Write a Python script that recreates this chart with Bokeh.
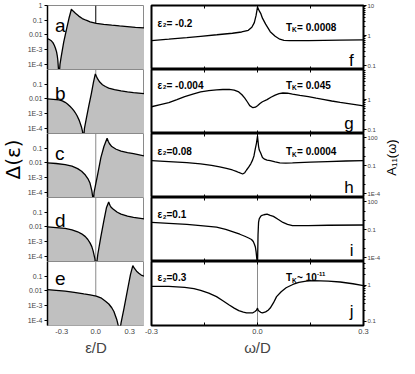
import math
from bokeh.plotting import figure
from bokeh.models import Range1d, FixedTicker, LinearAxis, Span, Label, PrintfTickFormatter
from bokeh.layouts import column, row
from bokeh.embed import file_html
from bokeh.resources import INLINE

# ---------------- data ----------------
left_letters = ["a", "b", "c", "d", "e"]
right_letters = ["f", "g", "h", "i", "j"]

eps_a = [-0.426, -0.41, -0.392, -0.378, -0.365, -0.355, -0.346, -0.340, -0.335, -0.330, -0.325,
         -0.316, -0.305, -0.283, -0.256, -0.234, -0.215, -0.205, -0.193, -0.174, -0.15, -0.119,
         -0.085, -0.05, 0.004, 0.07, 0.141, 0.21, 0.278, 0.35, 0.43]
delta_a = [5.6e-3, 4.9e-3, 4.0e-3, 3.0e-3, 1.9e-3, 1.2e-3, 7.1e-4, 4.0e-4, 2.0e-4, 5.9e-5, 1e-5,
           1.0e-4, 3.4e-4, 3.2e-3, 2.9e-2, 0.16, 0.56, 0.45, 0.38, 0.27, 0.19, 0.13,
           0.10, 0.078, 0.062, 0.053, 0.046, 0.041, 0.037, 0.033, 0.030]

eps_b = [-0.426, -0.375, -0.325, -0.295, -0.27, -0.25, -0.228, -0.21, -0.192, -0.178, -0.165,
         -0.146, -0.127, -0.117, -0.110, -0.1, -0.084, -0.062, -0.039, -0.021, -0.004, 0.005,
         0.018, 0.035, 0.059, 0.085, 0.114, 0.165, 0.223, 0.28, 0.333, 0.43]
delta_b = [1.02e-2, 9.5e-3, 8.7e-3, 7.4e-3, 5.9e-3, 4.6e-3, 3.2e-3, 2.3e-3, 1.55e-3, 1.07e-3, 7.2e-4,
           3.5e-4, 1.3e-4, 6.3e-5, 1e-5, 1.0e-4, 4.5e-4, 3.2e-3, 2.3e-2, 0.13, 0.50, 0.35,
           0.22, 0.14, 0.093, 0.07, 0.055, 0.043, 0.035, 0.030, 0.027, 0.023]

eps_c = [-0.426, -0.35, -0.27, -0.21, -0.16, -0.125, -0.092, -0.07, -0.051, -0.035, -0.027,
         -0.024, -0.015, 0.018, 0.045, 0.072, 0.100, 0.11, 0.12, 0.141, 0.18, 0.223, 0.28,
         0.333, 0.429]
delta_c = [1.0e-2, 9.2e-3, 7.7e-3, 6.0e-3, 4.1e-3, 2.7e-3, 1.5e-3, 8.7e-4, 4.3e-4, 1.3e-4, 5e-5,
           1e-5, 1.0e-4, 1.9e-3, 2.3e-2, 0.13, 0.47, 0.30, 0.21, 0.13, 0.085, 0.063, 0.050,
           0.043, 0.030]

eps_d = [-0.426, -0.35, -0.27, -0.21, -0.16, -0.125, -0.092, -0.07, -0.051, -0.035, -0.023,
         -0.007, 0.0, 0.018, 0.045, 0.072, 0.094, 0.114, 0.125, 0.135, 0.155, 0.19, 0.223,
         0.28, 0.333, 0.429]
delta_d = [1.0e-2, 9.0e-3, 7.9e-3, 6.4e-3, 4.7e-3, 3.4e-3, 2.2e-3, 1.4e-3, 8.3e-4, 4.6e-4, 2.3e-4,
           6.6e-5, 1e-5, 1.4e-4, 2.2e-3, 2.8e-2, 0.20, 0.50, 0.30, 0.22, 0.16, 0.10, 0.075,
           0.055, 0.045, 0.035]

eps_e = [-0.426, -0.35, -0.27, -0.19, -0.105, -0.05, 0.004, 0.045, 0.086, 0.115, 0.141, 0.16,
         0.174, 0.186, 0.196, 0.210, 0.223, 0.250, 0.278, 0.306, 0.327, 0.34, 0.360, 0.38,
         0.401, 0.429]
delta_e = [1.23e-2, 1.1e-2, 9.8e-3, 8.0e-3, 6.3e-3, 5.4e-3, 4.5e-3, 3.4e-3, 2.0e-3, 1.3e-3, 7.2e-4,
           4.0e-4, 2.0e-4, 1.1e-4, 5.4e-5, 1e-5, 6.9e-5, 7.2e-4, 9.8e-3, 0.13, 0.52, 0.35, 0.22,
           0.16, 0.12, 0.10]

omega_f = [-0.300, -0.251, -0.2, -0.161, -0.115, -0.071, -0.045, -0.026, -0.016, -0.009, -0.004,
           0.0, 0.005, 0.009, 0.014, 0.023, 0.036, 0.050, 0.063, 0.075, 0.090, 0.144, 0.233, 0.300]
A_f = [0.68, 0.76, 0.86, 0.95, 1.07, 1.2, 1.32, 1.5, 1.9, 2.7, 4.7,
       8.9, 6.6, 5.5, 3.8, 2.4, 1.35, 0.95, 0.76, 0.70, 0.68, 0.68, 0.71, 0.72]

omega_g = [-0.300, -0.275, -0.251, -0.228, -0.206, -0.183, -0.161, -0.138, -0.116, -0.098, -0.080,
           -0.066, -0.053, -0.044, -0.036, -0.029, -0.022, -0.013, -0.006, 0.0, 0.007, 0.014,
           0.027, 0.038, 0.050, 0.061, 0.072, 0.085, 0.099, 0.12, 0.144, 0.166, 0.189, 0.21,
           0.234, 0.267, 0.300]
A_g = [0.58, 0.68, 0.79, 1.0, 1.26, 1.52, 1.8, 1.98, 2.1, 2.17, 2.2,
       2.08, 1.8, 1.45, 1.12, 0.85, 0.63, 0.54, 0.56, 0.63, 0.74, 0.85,
       1.0, 1.2, 1.41, 1.57, 1.66, 1.63, 1.51, 1.38, 1.26, 1.12, 1.0, 0.9,
       0.81, 0.71, 0.62]

omega_h = [-0.300, -0.251, -0.2, -0.161, -0.13, -0.107, -0.088, -0.071, -0.06, -0.053, -0.042,
           -0.036, -0.031, -0.025, -0.019, -0.014, -0.010, -0.006, -0.003, 0.0, 0.003, 0.005,
           0.009, 0.014, 0.02, 0.027, 0.036, 0.05, 0.063, 0.08, 0.099, 0.15, 0.198, 0.25, 0.300]
A_h = [0.35, 0.28, 0.21, 0.16, 0.11, 0.076, 0.052, 0.035, 0.025, 0.019, 0.013,
       0.018, 0.035, 0.07, 0.16, 0.4, 1.1, 7.1, 25, 150, 12, 4.8,
       2.3, 0.74, 0.5, 0.4, 0.35, 0.26, 0.20, 0.19, 0.20, 0.24, 0.28, 0.32, 0.35]

omega_i = [-0.300, -0.251, -0.2, -0.161, -0.116, -0.09, -0.071, -0.05, -0.036, -0.025, -0.017,
           -0.012, -0.009, -0.006, -0.004, -0.002, 0.0, 0.0015, 0.003, 0.005, 0.009, 0.013,
           0.018, 0.027, 0.036, 0.045, 0.058, 0.072, 0.085, 0.099, 0.144, 0.2, 0.300]
A_i = [0.60, 0.48, 0.37, 0.28, 0.19, 0.11, 0.062, 0.033, 0.020, 0.013, 9.1e-3,
       5.5e-3, 3.0e-3, 1.4e-3, 4.5e-4, 8e-5, 1e-5, 0.029, 0.60, 1.5, 2.7, 3.5,
       4.0, 4.6, 3.4, 2.7, 1.3, 0.60, 0.38, 0.28, 0.28, 0.30, 0.32]

omega_j = [-0.300, -0.251, -0.206, -0.18, -0.161, -0.138, -0.116, -0.098, -0.080, -0.066, -0.053,
           -0.04, -0.031, -0.02, -0.013, -0.007, -0.003, 0.0, 0.002, 0.004, 0.009, 0.014,
           0.023, 0.03, 0.036, 0.045, 0.054, 0.067, 0.081, 0.1, 0.117, 0.138, 0.158, 0.2,
           0.234, 0.27, 0.300]
A_j = [0.93, 0.93, 0.87, 0.80, 0.72, 0.60, 0.48, 0.37, 0.28, 0.23, 0.195,
       0.178, 0.17, 0.168, 0.17, 0.185, 0.20, 0.23, 0.20, 0.19, 0.175, 0.17,
       0.18, 0.20, 0.23, 0.32, 0.48, 0.66, 0.85, 1.05, 1.2, 1.3, 1.35, 1.31,
       1.23, 1.1, 0.98]

eps2_text = ["= -0.2", "= -0.004", "=0.08", "=0.1", "=0.3"]
tk_text = ["= 0.0008", "= 0.045", "= 0.0004", None, "~ 10"]
tk_exponent = [None, None, None, None, "-11"]

left_y_ticks = [1e-4, 1e-3, 1e-2, 0.1, 1]
left_y_tick_labels = ["1E-4", "1E-3", "0.01", "0.1", "1"]
x_ticks = [-0.3, 0.0, 0.3]
x_minor_ticks = [-0.15, 0.15]
right_y_ticks = [[0.1, 1, 10], [0.1, 1], [1e-4, 0.1, 100], [1e-4, 0.1, 100], [0.1, 1]]
decade_minor = [0.2, 0.3, 0.4, 0.5, 0.6, 0.7, 0.8, 0.9, 2, 3, 4, 5, 6, 7, 8, 9]
right_y_minor = [decade_minor, decade_minor, [1e-3, 1e-2, 1, 10], [1e-3, 1e-2, 1, 10],
                 [0.2, 0.3, 0.4, 0.5, 0.6, 0.7, 0.8, 0.9, 2, 3, 4]]
right_y_tick_labels = {1e-4: "1E-4", 0.1: "0.1", 1: "1", 10: "10", 100: "100"}

left_x_range = (-0.426, 0.43)
left_y_range = (4.5e-5, 1.0)
right_x_range = (-0.3, 0.3)
right_y_ranges = [(0.075, 10), (0.075, 10), (4e-5, 280), (4e-5, 280), (0.075, 4.6)]

left_series = [(eps_a, delta_a), (eps_b, delta_b), (eps_c, delta_c), (eps_d, delta_d), (eps_e, delta_e)]
right_series = [(omega_f, A_f), (omega_g, A_g), (omega_h, A_h), (omega_i, A_i), (omega_j, A_j)]

# ---------------- layout / style ----------------
FONT = "Liberation Sans"
FRAME_H = 64
TOP = 5
BOTTOM = 33
TOTAL_H = TOP + 5 * FRAME_H + BOTTOM
LBL_L_W = 24
L_BORDER, L_FRAME = 20, 100
R_BORDER_L, R_FRAME, R_BORDER_R = 7, 214, 18
LBL_R_W = 16
FILL = "#c0c0c0"
GRAYLINE = "#8a8a8a"

left_letter_base = [44.0, 40.0, 44.5, 41.4, 46.9]
right_letter_base = [9.0, 10.0, 10.5, 11.0, 14.0]
eps2_base = [46.1, 48.1, 46.1, 46.6, 48.0]
tk_base = [42.4, 48.5, 46.0, None, 47.7]


def lab(p, x, y, text, size, bold=False, xo=0, yo=0, align="left", angle=0.0,
        x_units="data", y_units="screen", font=FONT, baseline="alphabetic"):
    p.add_layout(Label(x=x, y=y, x_units=x_units, y_units=y_units, text=text,
                       text_font=font, text_font_size=f"{size}px",
                       text_font_style="bold" if bold else "normal",
                       text_align=align, text_baseline=baseline, angle=angle,
                       x_offset=xo, y_offset=yo, text_color="black"))


def label_fig(width, text, y, size, font):
    p = figure(width=width, height=TOTAL_H, x_range=Range1d(0, 1), y_range=Range1d(0, TOTAL_H),
               x_axis_location=None, y_axis_location=None, output_backend="svg",
               toolbar_location=None, min_border=0)
    p.margin = 0
    p.grid.visible = False
    p.outline_line_color = None
    p.add_layout(Label(x=0.5, y=y, text=text, text_font=font, text_font_size=f"{size}px",
                       angle=math.pi / 2, text_align="center", text_baseline="middle",
                       text_color="black"))
    return p


def left_fig(k):
    first, last = k == 0, k == 4
    top = TOP if first else 0
    bot = BOTTOM if last else 0
    eps, delta = left_series[k]
    p = figure(width=L_BORDER + L_FRAME, height=FRAME_H + top + bot,
               x_range=Range1d(*left_x_range), y_range=Range1d(*left_y_range),
               y_axis_type="log", output_backend="svg", toolbar_location=None,
               min_border_left=L_BORDER, min_border_right=0,
               min_border_top=top, min_border_bottom=bot)
    p.margin = 0
    p.grid.visible = False
    p.outline_line_color = GRAYLINE
    p.outline_line_width = 1
    p.add_layout(Span(location=0, dimension="height", line_color="black" if first else GRAYLINE,
                      line_width=1, level="underlay"))
    p.varea(x=eps, y1=1e-6, y2=delta, fill_color=FILL)
    p.line(eps, delta, line_color="black", line_width=1.3)

    yax = p.yaxis[0]
    yax.ticker = FixedTicker(ticks=left_y_ticks if first else left_y_ticks[:-1], minor_ticks=[])
    yax.major_label_overrides = dict(zip(left_y_ticks, left_y_tick_labels))
    yax.major_tick_out = 3
    yax.major_tick_in = 0
    yax.minor_tick_out = 0
    yax.minor_tick_in = 0
    yax.axis_line_width = 1.5
    yax.axis_line_color = "black"
    yax.major_label_text_font = FONT
    yax.major_label_text_font_size = "7px"
    yax.major_label_standoff = 2

    xax = p.xaxis[0]
    if last:
        xax.ticker = FixedTicker(ticks=x_ticks, minor_ticks=[])
        xax.formatter = PrintfTickFormatter(format="%.1f")
        xax.major_tick_in = 0
        xax.major_tick_out = 0
        xax.minor_tick_in = 0
        xax.minor_tick_out = 0
        xax.axis_line_color = None
        xax.major_label_text_font = FONT
        xax.major_label_text_font_size = "7.5px"
        xax.major_label_standoff = 3
        xax.axis_label = "ε/D"
        xax.axis_label_text_font = FONT
        xax.axis_label_text_font_size = "15px"
        xax.axis_label_text_font_style = "normal"
        xax.axis_label_standoff = 2
    else:
        xax.visible = False

    lab(p, -0.36, left_letter_base[k], left_letters[k], 19)
    return p


def right_fig(k):
    first, last = k == 0, k == 4
    top = TOP if first else 0
    bot = BOTTOM if last else 0
    om, A = right_series[k]
    p = figure(width=R_BORDER_L + R_FRAME + R_BORDER_R, height=FRAME_H + top + bot,
               x_range=Range1d(*right_x_range), y_range=Range1d(*right_y_ranges[k]),
               y_axis_type="log", y_axis_location="right",
               output_backend="svg", toolbar_location=None,
               min_border_left=R_BORDER_L, min_border_right=R_BORDER_R,
               min_border_top=top, min_border_bottom=bot)
    p.margin = 0
    p.grid.visible = False
    p.outline_line_color = "black"
    p.outline_line_width = 2
    if k == 4:
        p.add_layout(Span(location=0, dimension="height", line_color=GRAYLINE,
                          line_width=1, level="underlay"))
    p.line(om, A, line_color="black", line_width=1.3)

    yax = p.yaxis[0]
    yax.ticker = FixedTicker(ticks=right_y_ticks[k], minor_ticks=right_y_minor[k])
    yax.major_label_overrides = right_y_tick_labels
    yax.major_tick_out = 3
    yax.major_tick_in = 0
    yax.minor_tick_out = 2
    yax.minor_tick_in = 0
    yax.axis_line_color = "black"
    yax.major_label_text_font = FONT
    yax.major_label_text_font_size = "6px"
    yax.major_label_standoff = 1

    xax = p.xaxis[0]
    xax.ticker = FixedTicker(ticks=x_ticks, minor_ticks=x_minor_ticks)
    xax.major_tick_in = 3
    xax.major_tick_out = 0
    xax.minor_tick_in = 3
    xax.minor_tick_out = 0
    xax.axis_line_color = None
    if last:
        xax.formatter = PrintfTickFormatter(format="%.1f")
        xax.major_label_text_font = FONT
        xax.major_label_text_font_size = "7.5px"
        xax.major_label_standoff = 3
        xax.axis_label = "ω/D"
        xax.axis_label_text_font = FONT
        xax.axis_label_text_font_size = "15px"
        xax.axis_label_text_font_style = "normal"
        xax.axis_label_standoff = 2
    else:
        xax.major_label_text_color = None
    top_ax = LinearAxis(ticker=FixedTicker(ticks=x_ticks, minor_ticks=x_minor_ticks),
                        major_tick_in=3, major_tick_out=0, minor_tick_in=3, minor_tick_out=0,
                        axis_line_color=None, major_label_text_color=None)
    p.add_layout(top_ax, "above")

    lab(p, -0.283, eps2_base[k], "ε", 10, bold=True)
    lab(p, -0.283, eps2_base[k], "2", 6, bold=True, xo=5.5, yo=-2)
    lab(p, -0.283, eps2_base[k], eps2_text[k], 10, bold=True, xo=9)
    if tk_text[k] is not None:
        lab(p, 0.081, tk_base[k], "T", 10, bold=True)
        lab(p, 0.081, tk_base[k], "K", 6.5, bold=True, xo=6, yo=-2.5)
        lab(p, 0.081, tk_base[k], tk_text[k], 10, bold=True, xo=11)
        if tk_exponent[k] is not None:
            lab(p, 0.081, tk_base[k], tk_exponent[k], 6, bold=True, xo=31, yo=4)
    lab(p, 0.272, right_letter_base[k], right_letters[k], 17, align="right")
    return p


left_col = column(*[left_fig(k) for k in range(5)])
right_col = column(*[right_fig(k) for k in range(5)])
delta_label = label_fig(LBL_L_W, "Δ(ε)", 199, 20, "DejaVu Sans")
a_label = label_fig(LBL_R_W, "A₁₁(ω)", 201, 13, FONT)
layout = row(delta_label, left_col, right_col, a_label)

open("out.html", "w").write(file_html(layout, INLINE))
